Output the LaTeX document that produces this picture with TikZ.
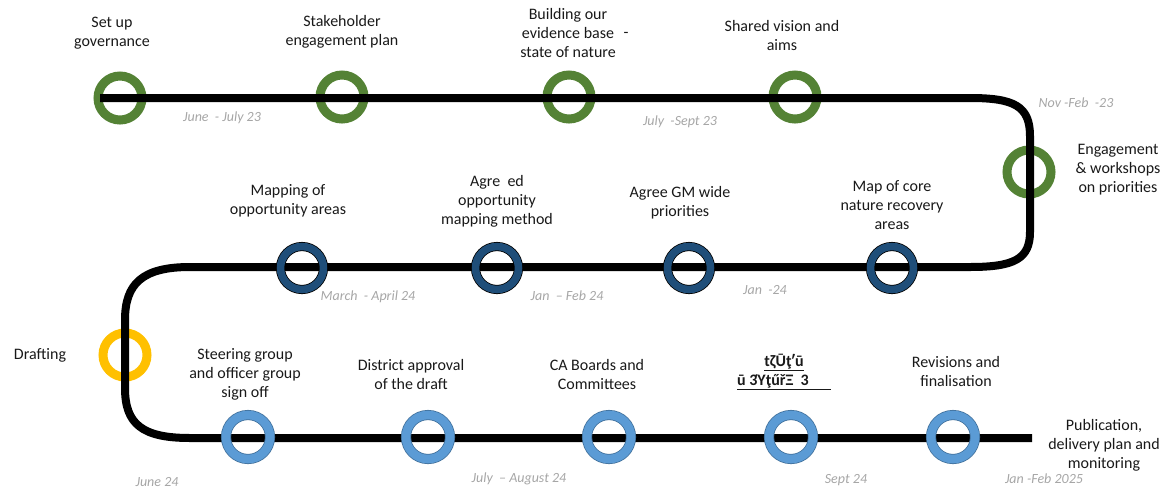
\documentclass[tikz,border=0pt]{standalone}
\usepackage{fontspec}
\setmainfont{Carlito}
\definecolor{rgreen}{HTML}{548235}
\definecolor{rdark}{HTML}{1F4E79}
\definecolor{rlight}{HTML}{5B9BD5}
\definecolor{rlightedge}{HTML}{41719C}
\definecolor{ryellow}{HTML}{FFC000}
\definecolor{dategray}{HTML}{A6A6A6}
\begin{document}
\begin{tikzpicture}[x=1pt,y=-1pt,
  ring/.style={circle,inner sep=0pt,minimum size=44pt,line width=9pt},
  greenring/.style={ring,draw=rgreen},
  yellowring/.style={ring,draw=ryellow},
  darkring/.style={circle,inner sep=0pt,minimum size=43pt,draw=black,line width=0.8pt,double=rdark,double distance=7.5pt},
  lightring/.style={circle,inner sep=0pt,minimum size=44pt,draw=rlightedge,line width=0.8pt,double=rlight,double distance=8.5pt},
  rail/.style={line width=8pt,black},
  lbl/.style={align=center,font=\fontsize{16}{19}\selectfont,text=black!90,inner sep=0pt},
  date/.style={font=\fontsize{14}{16}\selectfont\itshape,text=dategray,inner sep=0pt}]
\useasboundingbox (0,0) rectangle (1165,491);
% rings under the rail
\node[greenring] (g1) at (120,98) {};
\node[greenring] (g2) at (342,97) {};
\node[greenring] (g3) at (569,97) {};
\node[greenring] (g4) at (795,97) {};
\node[greenring] (g5) at (1029,172) {};
\node[yellowring] (y1) at (125,355) {};
% rail
\coordinate (s) at (100,98);
\coordinate (e) at (1032,438);
\draw[rail] (s) -- (970,98) .. controls (1014,98) and (1030,106) .. (1030,136) -- (1030,232)
  .. controls (1030,259) and (1014,267) .. (970,267) -- (190,267)
  .. controls (142,267) and (125,284) .. (125,320) -- (125,388)
  .. controls (125,424) and (142,438) .. (190,438) -- (e);
% rings over the rail
\node[darkring] (d1) at (302,268) {};
\node[darkring] (d2) at (497,268) {};
\node[darkring] (d3) at (689,268) {};
\node[darkring] (d4) at (892,268) {};
\node[lightring] (b1) at (248,437) {};
\node[lightring] (b2) at (428,437) {};
\node[lightring] (b3) at (609,437) {};
\node[lightring] (b4) at (791,437) {};
\node[lightring] (b5) at (953,437) {};
% labels
\node[lbl] (t1) at (112,33) {Set up\\governance};
\node[lbl] (t2) at (342,32) {Stakeholder\\engagement plan};
\node[lbl] (t3) at (568,33) {Building our\\evidence base\\state of nature};
\node[lbl] (t3d) at (626,35) {-};
\node[lbl] (t4) at (782,35) {Shared vision and\\aims};
\node[lbl] (t5) at (1118,170) {Engagement\\\& workshops\\on priorities};
\node[lbl] (m1) at (288,201) {Mapping of\\opportunity areas};
\node[lbl] (m2) at (497,201) {Agre\ \ ed\\opportunity\\mapping method};
\node[lbl] (m3) at (680,203) {Agree GM wide\\priorities};
\node[lbl] (m4) at (892,205) {Map of core\\nature recovery\\areas};
\node[lbl] (dr) at (40,355) {Drafting};
\node[lbl] (l1) at (245,374) {Steering group\\and officer group\\sign off};
\node[lbl] (l2) at (411,374) {District approval\\of the draft};
\node[lbl] (l3) at (597,374) {CA Boards and\\Committees};
\node[lbl,font=\fontsize{16}{19}\selectfont\bfseries] (l4) at (784,372) {\underline{tζŪţʹū}\\\underline{ū 3ΎţűřΞ\ \ 3\hspace{22pt}}};
\node[lbl] (l5) at (956,371) {Revisions and\\finalisation};
\node[lbl] (l6) at (1104,445) {Publication,\\delivery plan and\\monitoring};
% dates
\node[date] (a1) at (222,118) {June\ \ - July 23};
\node[date] (a2) at (680,122) {July\ \ -Sept 23};
\node[date] (a3) at (1076,103) {Nov -Feb\ \ -23};
\node[date] (a4) at (368,297) {March\ \ - April 24};
\node[date] (a5) at (567,296) {Jan\ \ – Feb 24};
\node[date] (a6) at (765,290) {Jan\ \ -24};
\node[date] (a7) at (157,482) {June 24};
\node[date] (a8) at (519,479) {July\ \ – August 24};
\node[date] (a9) at (846,480) {Sept 24};
\node[date] (a10) at (1044,479) {Jan -Feb 2025};
\end{tikzpicture}
\end{document}
